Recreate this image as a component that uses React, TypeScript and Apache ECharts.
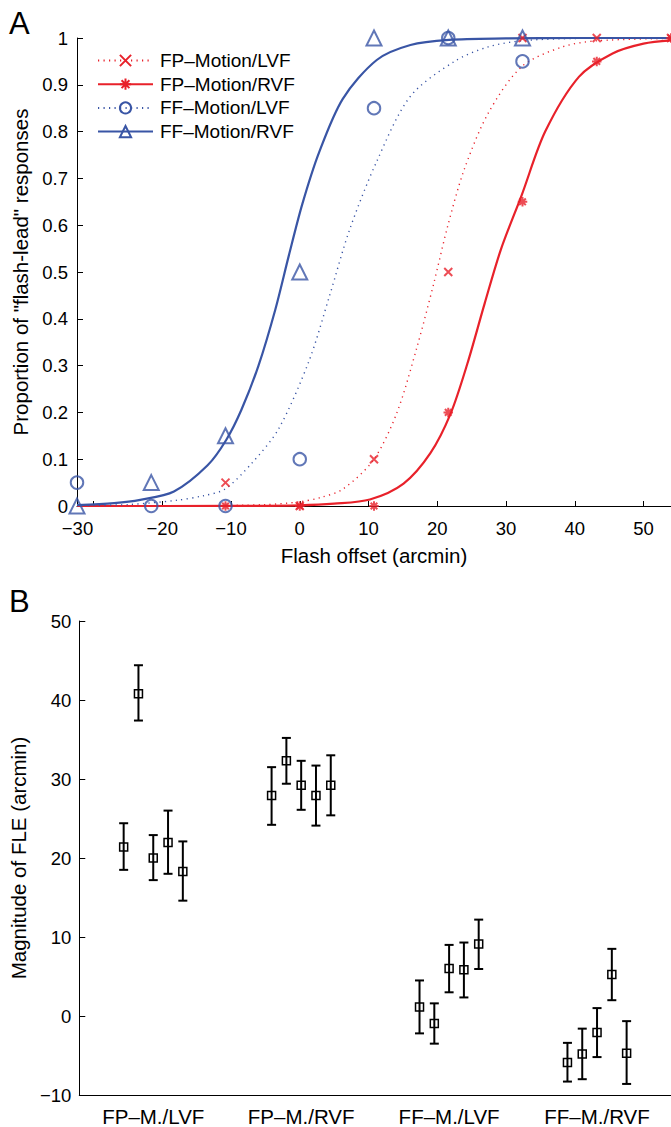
import React, { useEffect, useRef } from 'react';
import * as echarts from 'echarts';

const RED = '#e8212a';
const BLUE = '#3955a5';
const FONT = '"Liberation Sans", Arial, Helvetica, sans-serif';
const MINUS = '\u2212';

// ---------- Panel A data ----------
const SERIES_NAMES = ['FP\u2013Motion/LVF', 'FP\u2013Motion/RVF', 'FF\u2013Motion/LVF', 'FF\u2013Motion/RVF'];

const OFFSETS_FP = [-10.8, 0, 10.8, 21.6, 32.4, 43.2, 54];
const OFFSETS_FF = [-32.4, -21.6, -10.8, 0, 10.8, 21.6, 32.4];

const FP_LVF_PROP = [0.05, 0, 0.1, 0.5, 1, 1, 1];
const FP_RVF_PROP = [0, 0, 0, 0.2, 0.65, 0.95, 1];
const FF_LVF_PROP = [0.05, 0, 0, 0.1, 0.85, 1, 0.95];
const FF_RVF_PROP = [0, 0.05, 0.15, 0.5, 1, 1, 1];

// fitted curves
const FP_LVF_FIT_X = [-32.4, -15, -5, 0, 3, 6.26, 10.7, 14.1, 17.06, 19.5, 21.5, 23.9, 27.4, 32.3, 38.2, 43.2, 54];
const FP_LVF_FIT_Y = [0, 0.0005, 0.003, 0.009, 0.018, 0.036, 0.098, 0.198, 0.34, 0.476, 0.597, 0.718, 0.839, 0.939, 0.981, 0.994, 0.999];

const FP_RVF_FIT_X = [-32.4, -10, 0, 5, 10.2, 15.1, 19.0, 21.96, 24.4, 26.9, 29.3, 32.3, 35.7, 40.6, 45.5, 50, 54];
const FP_RVF_FIT_Y = [0, 0.0002, 0.0015, 0.005, 0.014, 0.048, 0.113, 0.198, 0.305, 0.433, 0.55, 0.665, 0.8, 0.917, 0.967, 0.988, 0.995];

const FF_LVF_FIT_X = [-32.4, -25, -18, -14, -10.9, -7.0, -3.07, 1.35, 4.29, 7.24, 11.16, 16.07, 22.5, 27.4, 32.3, 40, 54];
const FF_LVF_FIT_Y = [0.001, 0.003, 0.012, 0.022, 0.036, 0.091, 0.165, 0.31, 0.447, 0.59, 0.735, 0.875, 0.95, 0.981, 0.994, 0.999, 1];

const FF_RVF_FIT_X = [-32.4, -27, -23.2, -18.3, -13.4, -10.7, -8.5, -6.0, -3.55, -1.59, 0.37, 2.8, 6.26, 11.2, 16.1, 21.7, 30, 40, 54];
const FF_RVF_FIT_Y = [0.002, 0.006, 0.013, 0.031, 0.087, 0.141, 0.205, 0.3, 0.42, 0.535, 0.645, 0.755, 0.87, 0.953, 0.985, 0.996, 0.999, 1, 1];

const X_TICKS = [-30, -20, -10, 0, 10, 20, 30, 40, 50];

// ---------- Panel B data ----------
const CATEGORIES = ['FP\u2013M./LVF', 'FP\u2013M./RVF', 'FF\u2013M./LVF', 'FF\u2013M./RVF'];
const FLE_MEAN = [
  [21.4, 40.8, 20.0, 21.95, 18.3],
  [27.9, 32.3, 29.2, 27.9, 29.2],
  [1.15, -0.95, 6.0, 5.85, 9.1],
  [-5.9, -4.8, -2.1, 5.25, -4.7],
];
const FLE_UPPER = [
  [24.4, 44.4, 22.9, 26.0, 22.1],
  [31.5, 35.2, 32.3, 31.7, 33.0],
  [4.5, 1.6, 9.0, 9.3, 12.2],
  [-3.4, -1.6, 1.0, 8.5, -0.65],
];
const FLE_LOWER = [
  [18.5, 37.4, 17.2, 18.0, 14.6],
  [24.2, 29.4, 26.1, 24.1, 25.4],
  [-2.2, -3.5, 3.0, 2.35, 5.95],
  [-8.3, -8.0, -5.2, 2.0, -8.6],
];

const zip = (xs: number[], ys: number[]) => xs.map((x, i) => [x, ys[i]]);
const fmtNeg = (v: number) => (v < 0 ? MINUS + String(-v) : String(v));

const CROSS = 'path://M0,0L10,10M10,0L0,10';
const STAR = 'path://M5,0L5,10M0,5L10,5M1.5,1.5L8.5,8.5M8.5,1.5L1.5,8.5';

export default function App() {
  const ref = useRef<HTMLDivElement>(null);

  useEffect(() => {
    document.body.style.margin = '0';
    const chart = echarts.init(ref.current!, undefined, { renderer: 'svg' });

    const styles = [
      { color: RED, symbol: CROSS, size: 8, dotted: true, fitX: FP_LVF_FIT_X, fitY: FP_LVF_FIT_Y, ptsX: OFFSETS_FP, ptsY: FP_LVF_PROP, bw: 2 },
      { color: RED, symbol: STAR, size: 9.5, dotted: false, fitX: FP_RVF_FIT_X, fitY: FP_RVF_FIT_Y, ptsX: OFFSETS_FP, ptsY: FP_RVF_PROP, bw: 2 },
      { color: BLUE, symbol: 'circle', size: 12.5, dotted: true, fitX: FF_LVF_FIT_X, fitY: FF_LVF_FIT_Y, ptsX: OFFSETS_FF, ptsY: FF_LVF_PROP, bw: 2 },
      { color: BLUE, symbol: 'triangle', size: 15, dotted: false, fitX: FF_RVF_FIT_X, fitY: FF_RVF_FIT_Y, ptsX: OFFSETS_FF, ptsY: FF_RVF_PROP, bw: 2 },
    ];

    const fitSeries = styles.map((s, k) => ({
      type: 'line',
      name: SERIES_NAMES[k],
      xAxisIndex: 0,
      yAxisIndex: 0,
      data: zip(s.fitX, s.fitY),
      smooth: 0.3,
      showSymbol: false,
      symbol: s.symbol,
      symbolSize: s.size,
      itemStyle: { color: 'rgba(0,0,0,0)', borderColor: s.color, borderWidth: s.bw },
      lineStyle: s.dotted
        ? { color: s.color, width: 1.4, type: [1.2, 4.3] }
        : { color: s.color, width: 2.2, type: 'solid' },
      z: 2,
      silent: true,
    }));

    const markerSeries = styles.map((s, k) => ({
      type: 'scatter',
      name: SERIES_NAMES[k] + ' data',
      xAxisIndex: 0,
      yAxisIndex: 0,
      data: zip(s.ptsX, s.ptsY),
      symbol: s.symbol,
      symbolSize: s.size,
      itemStyle: { color: 'rgba(0,0,0,0)', borderColor: s.color, borderWidth: s.bw },
      z: 3,
      silent: true,
    }));

    const fleData: number[][] = [];
    FLE_MEAN.forEach((group, g) => {
      group.forEach((m, i) => {
        fleData.push([g, m, FLE_LOWER[g][i], FLE_UPPER[g][i], i]);
      });
    });

    const option: any = {
      animation: false,
      textStyle: { fontFamily: FONT, color: '#000' },
      grid: [
        { left: 77, right: -2, top: 38, bottom: 621 },
        { left: 76, right: -9, top: 621, bottom: 27.5 },
      ],
      legend: {
        data: SERIES_NAMES,
        orient: 'vertical',
        left: 97,
        top: 51,
        padding: 0,
        itemWidth: 55,
        itemHeight: 14,
        itemGap: 4.7,
        selectedMode: false,
        textStyle: { fontFamily: FONT, fontSize: 19, color: '#000', lineHeight: 18, padding: [0, 0, 0, 2] },
      },
      xAxis: [
        {
          type: 'value',
          gridIndex: 0,
          min: -32.4,
          max: 54,
          name: 'Flash offset (arcmin)',
          nameLocation: 'middle',
          nameGap: 39,
          nameTextStyle: { fontFamily: FONT, fontSize: 20.5, color: '#000' },
          axisLine: { onZero: false, lineStyle: { color: '#000', width: 1 } },
          axisTick: { inside: true, length: 5, customValues: X_TICKS, lineStyle: { color: '#000' } },
          axisLabel: {
            customValues: X_TICKS,
            margin: 13,
            fontFamily: FONT,
            fontSize: 18.5,
            color: '#000',
            formatter: (v: number) => (v === -30 ? '{s|' + fmtNeg(v) + '}' : fmtNeg(v)),
            rich: { s: { fontFamily: FONT, fontSize: 18.5, color: '#000', padding: [0, 32, 0, 0] } },
          },
          splitLine: { show: false },
        },
        {
          type: 'category',
          gridIndex: 1,
          data: CATEGORIES,
          boundaryGap: true,
          axisLine: { onZero: false, lineStyle: { color: '#000', width: 1 } },
          axisTick: { inside: true, length: 5, alignWithLabel: true, lineStyle: { color: '#000' } },
          axisLabel: { margin: 11, fontFamily: FONT, fontSize: 20.5, color: '#000' },
          splitLine: { show: false },
        },
      ],
      yAxis: [
        {
          type: 'value',
          gridIndex: 0,
          min: 0,
          max: 1,
          interval: 0.1,
          name: 'Proportion of "flash-lead" responses',
          nameLocation: 'middle',
          nameGap: 45,
          nameTextStyle: { fontFamily: FONT, fontSize: 20.5, color: '#000' },
          axisLine: { show: true, onZero: false, lineStyle: { color: '#000', width: 1 } },
          axisTick: { show: true, inside: true, length: 6, lineStyle: { color: '#000' } },
          axisLabel: { margin: 9, fontFamily: FONT, fontSize: 18.5, color: '#000' },
          splitLine: { show: false },
        },
        {
          type: 'value',
          gridIndex: 1,
          min: -10,
          max: 50,
          interval: 10,
          name: 'Magnitude of FLE (arcmin)',
          nameLocation: 'middle',
          nameGap: 44,
          nameTextStyle: { fontFamily: FONT, fontSize: 20.5, color: '#000' },
          axisLine: { show: true, onZero: false, lineStyle: { color: '#000', width: 1 } },
          axisTick: { show: true, inside: true, length: 6, lineStyle: { color: '#000' } },
          axisLabel: { margin: 8, fontFamily: FONT, fontSize: 18.5, color: '#000', formatter: (v: number) => fmtNeg(v) },
          splitLine: { show: false },
        },
      ],
      graphic: [
        { type: 'text', left: 9, top: 8, style: { text: 'A', fontFamily: FONT, fontSize: 31, fill: '#000' } },
        { type: 'text', left: 9, top: 586, style: { text: 'B', fontFamily: FONT, fontSize: 31, fill: '#000' } },
      ],
      series: [
        ...fitSeries,
        ...markerSeries,
        {
          type: 'custom',
          xAxisIndex: 1,
          yAxisIndex: 1,
          data: fleData,
          silent: true,
          renderItem: (params: any, api: any) => {
            const cat = api.value(0);
            const band = api.size([1, 0])[0];
            const c = api.coord([cat, api.value(1)]);
            const x = c[0] + (api.value(4) - 2) * band * 0.1;
            const yM = c[1];
            const yLo = api.coord([cat, api.value(2)])[1];
            const yHi = api.coord([cat, api.value(3)])[1];
            const cap = 4.5;
            const sq = 4;
            const ls = { stroke: '#000', lineWidth: 2 };
            return {
              type: 'group',
              children: [
                { type: 'line', shape: { x1: x, y1: yHi, x2: x, y2: yLo }, style: ls },
                { type: 'line', shape: { x1: x - cap, y1: yHi, x2: x + cap, y2: yHi }, style: ls },
                { type: 'line', shape: { x1: x - cap, y1: yLo, x2: x + cap, y2: yLo }, style: ls },
                {
                  type: 'rect',
                  shape: { x: x - sq, y: yM - sq, width: 2 * sq, height: 2 * sq },
                  style: { fill: 'none', stroke: '#000', lineWidth: 1.5 },
                },
              ],
            };
          },
        },
      ],
    };

    chart.setOption(option);
    return () => chart.dispose();
  }, []);

  return <div ref={ref} style={{ width: 671, height: 1127 }} />;
}
